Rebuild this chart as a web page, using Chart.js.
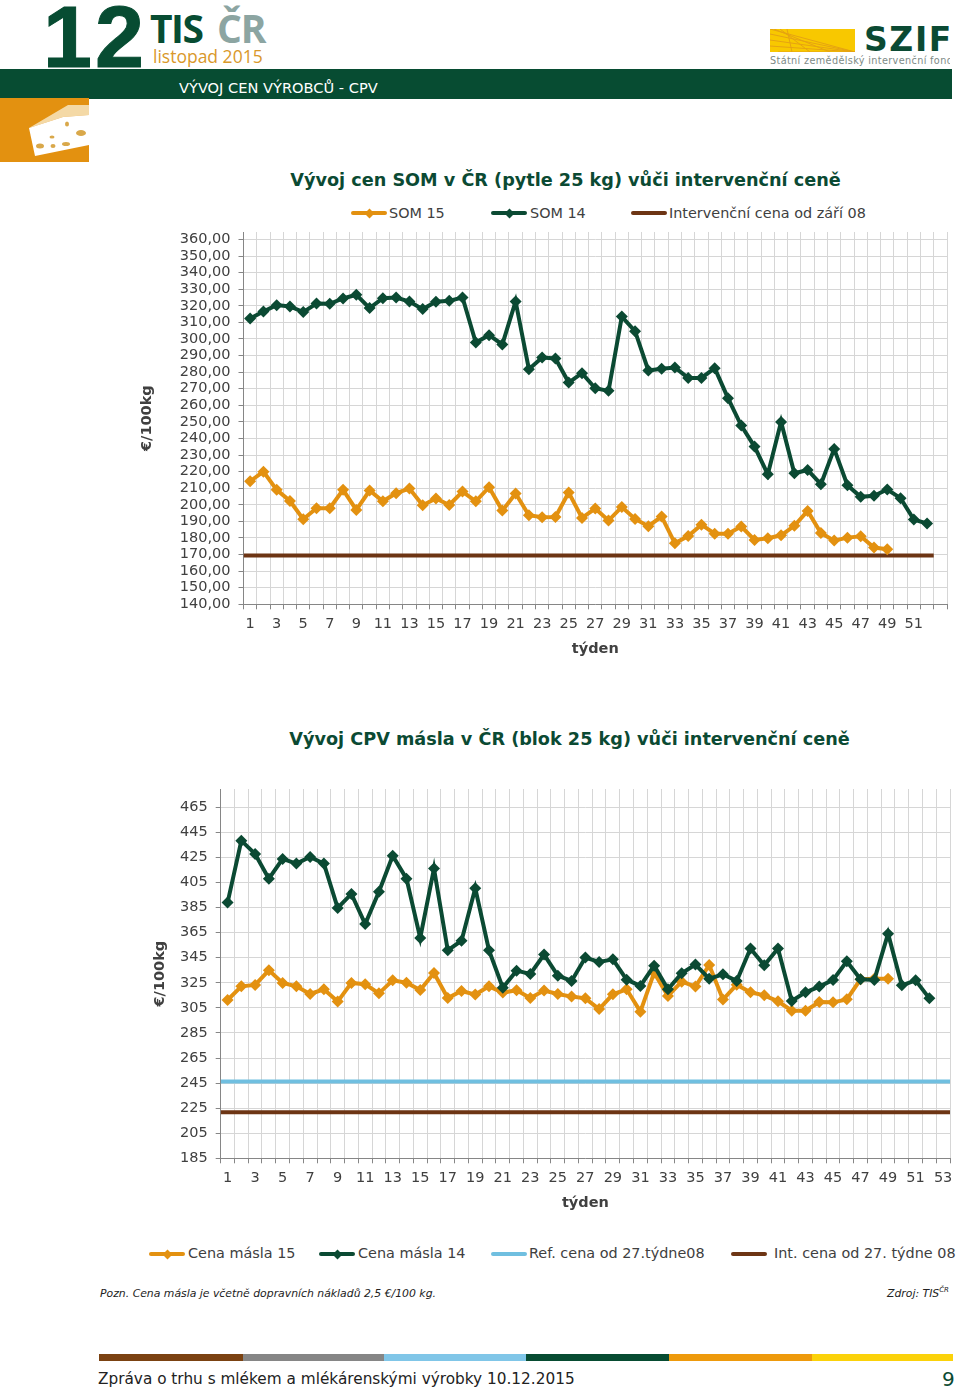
<!DOCTYPE html>
<html lang="cs">
<head>
<meta charset="utf-8">
<title>Vývoj cen výrobců - CPV</title>
<script src="https://cdn.jsdelivr.net/npm/chart.js@4"></script>
<style>
  html, body { margin: 0; padding: 0; background: #fff; }
  body { position: relative; width: 960px; height: 1389px; overflow: hidden; font-family: "DejaVu Sans", sans-serif; color: #404040; }
  .abs { position: absolute; white-space: nowrap; }
  .chart-box { position: absolute; left: 130px; width: 830px; height: 440px; }
  .title { position: absolute; text-align: center; font-weight: bold; font-size: 17.65px; color: #0b4a33; white-space: nowrap; }
  .key { position: absolute; width: 36px; height: 4px; border-radius: 2px; }
  .key i { position: absolute; left: 14.5px; top: -1.5px; width: 7px; height: 7px; transform: rotate(45deg); background: inherit; }
  .key-text { position: absolute; font-size: 14.4px; line-height: 18px; white-space: nowrap; }
  .strip { position: absolute; top: 1354px; height: 7px; }
</style>
</head>
<body>

<!-- hlavička -->
<div class="abs" style="left:43px;top:-13px;font:bold 88px/100px 'Liberation Sans';color:#074c32;-webkit-text-stroke:1px #074c32;letter-spacing:3px;height:85px;overflow:hidden">12</div>
<div class="abs" style="left:150px;top:2px;font:bold 39px/52px 'Open Sans';color:#074c32;letter-spacing:-1.5px">TIS</div>
<div class="abs" style="left:217px;top:2px;font:bold 39px/52px 'Open Sans';color:#8ca5a2;letter-spacing:-1px">ČR</div>
<div class="abs" style="left:153px;top:46px;font:17.5px/20px 'Open Sans';color:#d9982a">listopad 2015</div>

<svg class="abs" style="left:770px;top:29px" width="85" height="23" viewBox="0 0 85 23">
  <rect width="85" height="23" fill="#f8c800"/>
  <g stroke="#e5a312" stroke-width="1" fill="none">
    <path d="M85 23 L0 0"/><path d="M85 23 L0 5"/><path d="M85 23 L0 11"/><path d="M85 23 L0 17"/>
    <path d="M85 23 L8 23"/><path d="M60 23 L4 0"/><path d="M40 23 L10 0"/><path d="M22 23 L17 0"/>
  </g>
</svg>
<div class="abs" style="left:864px;top:19px;font:bold 33px/42px 'DejaVu Sans';color:#0b4a33;letter-spacing:1.6px">SZIF</div>
<div class="abs" style="left:770px;top:55px;width:180px;overflow:hidden;font:9.7px/12px 'DejaVu Sans';color:#7d8a86;letter-spacing:0.35px">Státní zemědělský intervenční fond</div>

<div class="abs" style="left:0;top:69px;width:952px;height:30px;background:#074c32"></div>
<div class="abs" style="left:179px;top:79px;font-size:14.6px;line-height:18px;color:#fff">VÝVOJ CEN VÝROBCŮ - CPV</div>

<svg class="abs" style="left:0;top:98px" width="89" height="64" viewBox="0 0 89 64">
  <rect width="89" height="64" fill="#e39110"/>
  <path d="M29 30 L68 7 L89 7 L89 17 L63 19 Z" fill="#f4d9a6"/>
  <path d="M29 30 L63 19 L89 17 L89 47 L35 58 Z" fill="#fff"/>
  <g fill="#d9a84a">
    <ellipse cx="81" cy="35" rx="5" ry="3"/><ellipse cx="66" cy="46" rx="4" ry="2"/>
    <ellipse cx="40" cy="48" rx="4" ry="2.5"/><ellipse cx="53" cy="48" rx="2.5" ry="2"/>
    <ellipse cx="52" cy="39" rx="2.5" ry="1.5"/><ellipse cx="67" cy="26" rx="2" ry="2.5"/>
  </g>
</svg>

<!-- graf 1 -->
<div class="title" style="left:190px;width:751px;top:170px">Vývoj cen SOM v ČR (pytle 25 kg) vůči intervenční ceně</div>
<div class="key" style="left:351px;top:211px;background:#e39110"><i></i></div>
<div class="key-text" style="left:389px;top:204px">SOM 15</div>
<div class="key" style="left:491px;top:211px;background:#0b4a33"><i></i></div>
<div class="key-text" style="left:530px;top:204px">SOM 14</div>
<div class="key" style="left:631px;top:211px;background:#6d3514"></div>
<div class="key-text" style="left:669px;top:204px">Intervenční cena od září 08</div>
<div class="chart-box" style="top:225px"><canvas id="somChart"></canvas></div>

<!-- graf 2 -->
<div class="title" style="left:190px;width:759px;top:729px">Vývoj CPV másla v ČR (blok 25 kg) vůči intervenční ceně</div>
<div class="chart-box" style="top:780px"><canvas id="butterChart"></canvas></div>
<div class="key" style="left:149px;top:1252px;background:#e39110"><i></i></div>
<div class="key-text" style="left:188px;top:1244px">Cena másla 15</div>
<div class="key" style="left:319px;top:1252px;background:#0b4a33"><i></i></div>
<div class="key-text" style="left:358px;top:1244px">Cena másla 14</div>
<div class="key" style="left:491px;top:1252px;background:#70bfe0"></div>
<div class="key-text" style="left:529px;top:1244px">Ref. cena od 27.týdne08</div>
<div class="key" style="left:731px;top:1252px;background:#6d3514"></div>
<div class="key-text" style="left:774px;top:1244px">Int. cena od 27. týdne 08</div>

<!-- patička -->
<div class="abs" style="left:100px;top:1287px;font-size:10.85px;line-height:14px;font-style:italic;color:#222">Pozn. Cena másla je včetně dopravních nákladů 2,5 €/100 kg.</div>
<div class="abs" style="left:887px;top:1287px;font-size:10.85px;line-height:14px;font-style:italic;color:#222">Zdroj: TIS<sup style="font-size:7px;line-height:0">ČR</sup></div>
<div class="strip" style="left:99px;width:144px;background:#7b4212"></div>
<div class="strip" style="left:243px;width:141px;background:#868686"></div>
<div class="strip" style="left:384px;width:142px;background:#80c6e8"></div>
<div class="strip" style="left:526px;width:143px;background:#074c32"></div>
<div class="strip" style="left:669px;width:143px;background:#ee9a0c"></div>
<div class="strip" style="left:812px;width:141px;background:#fbd20a"></div>
<div class="abs" style="left:98px;top:1369px;font-size:15.3px;line-height:20px;color:#222">Zpráva o trhu s mlékem a mlékárenskými výrobky 10.12.2015</div>
<div class="abs" style="left:942px;top:1367px;font-size:20px;line-height:24px;color:#0b4a33">9</div>

<script>
// ----------------------------------------------------------------
//  Data
// ----------------------------------------------------------------
const weeks = ['1','2','3','4','5','6','7','8','9','10','11','12','13','14','15','16','17','18','19','20','21','22','23','24','25','26','27','28','29','30','31','32','33','34','35','36','37','38','39','40','41','42','43','44','45','46','47','48','49','50','51','52','53'];
const xTicksSom = ['1','3','5','7','9','11','13','15','17','19','21','23','25','27','29','31','33','35','37','39','41','43','45','47','49','51'];
const xTicksButter = [...xTicksSom, '53'];
const yTicksSom = [140,150,160,170,180,190,200,210,220,230,240,250,260,270,280,290,300,310,320,330,340,350,360];
const yTicksButter = [185,205,225,245,265,285,305,325,345,365,385,405,425,445,465];

const som15 = [214.2,220,209,202.3,191.3,197.9,197.9,209,196.9,208.6,202.1,207,209.8,199.7,203.8,199.9,208,202.1,210.6,196.5,206.8,193.7,192.5,192.7,207.4,192.1,197.7,190.5,198.7,191.5,187.1,192.9,176.8,181.2,188,182.6,182.6,186.9,178.8,179.8,181.6,187.3,196.3,183,178.4,180.2,181,174.2,173.2];
const som14 = [312.3,316.6,320.4,319.6,316.2,321.4,321.2,324.4,326.6,318.6,324.6,325,322.6,318,322.4,323,325,297.9,302.3,296.7,322.6,281.8,288.8,288.2,273.7,279.4,270.3,268.7,313.5,304.7,281,282,282.8,276.5,276.5,282.4,264.3,247.8,235.1,218.4,250,219,221,212.4,233.7,211.8,204.8,205.4,209.2,204,191.1,188.7];
const somIntervention = 169.5;
const somInterventionSpan = [0.5, 52.5];

const butter15 = [311.3,322.2,323.3,335,324.9,322.2,316.1,319.8,310,324.9,323.8,316.6,327,325.1,319.3,332.8,312.9,318.5,315.6,322.2,317.2,319,312.9,318.8,316.1,314,312.6,304.1,315.8,319.8,302,333.1,314.5,325.9,322,339.2,311.6,323.5,317.4,315,310.2,302.8,302.8,309.7,309.4,311.8,327.8,328.3,328.3];
const butter14 = [389,438.4,427.8,408.1,423.8,420.1,425.4,420.1,384.7,395.9,371.9,397.7,426.4,408.1,360.8,416.1,350.9,358.6,400.4,350.9,321.1,334.7,332,347.5,330.7,326.5,345.1,341.6,343.7,327.5,322.5,338.7,319.8,332.6,339.5,328.3,331.8,326.5,352.3,339,352.3,310.5,317.4,322,327.3,342.1,327.8,327.3,364.2,323,327,312.6];
const butterRef = 246.2;
const butterInt = 221.7;
const butterLineSpan = [0.5, 53.5];

// ----------------------------------------------------------------
//  Společné nastavení
// ----------------------------------------------------------------
const ORANGE = '#e39110', GREEN = '#0b4a33', BROWN = '#6d3514', BLUE = '#70bfe0';
const GRID = '#d6d6d6', AXIS = '#868686', TEXT = '#404040';
const FONT = '"DejaVu Sans", sans-serif';

const markerLine = (label, data, color, order) => ({
  label, data, order,
  borderColor: color,
  backgroundColor: color,
  borderWidth: 4,
  pointStyle: 'rectRot',
  pointRadius: 6,
  pointBorderWidth: 0,
  tension: 0,
  xAxisID: 'x',
});

// vodorovné cenové linie jdou od hrany k hraně kategorie, proto vlastní skrytá osa
const flatLine = (label, value, span, color, order) => ({
  label, order,
  data: span.map(x => ({ x, y: value })),
  borderColor: color,
  borderWidth: 4,
  pointRadius: 0,
  xAxisID: 'edge',
});

const buildChart = (id, cfg) => new Chart(document.getElementById(id), {
  type: 'line',
  data: { labels: weeks, datasets: cfg.datasets },
  options: {
    responsive: true,
    maintainAspectRatio: false,
    animation: false,
    layout: { autoPadding: false, padding: cfg.padding },
    plugins: { legend: { display: false }, title: { display: false }, tooltip: { enabled: false } },
    scales: {
      x: {
        type: 'category',
        offset: true,
        grid: { offset: true, color: GRID, tickColor: AXIS, tickLength: 5 },
        border: { color: AXIS },
        ticks: {
          autoSkip: false,
          maxRotation: 0,
          padding: 6,
          color: TEXT,
          font: { family: FONT, size: 14.5 },
          callback(v) {
            const l = this.getLabelForValue(v);
            return cfg.xTicks.includes(l) ? l : '';
          },
        },
        title: { display: true, text: 'týden', color: TEXT, font: { family: FONT, size: 14.5, weight: 'bold' }, padding: 0 },
        afterFit: s => { s.height = 53.7; },
      },
      edge: { type: 'linear', position: 'bottom', display: false, min: 0.5, max: 53.5 },
      y: {
        min: cfg.yMin,
        max: cfg.yMax,
        grid: { color: GRID, tickColor: AXIS, tickLength: 5 },
        border: { color: AXIS },
        afterBuildTicks: s => { s.ticks = cfg.yTicks.map(value => ({ value })); },
        ticks: {
          autoSkip: false,
          padding: 8,
          color: TEXT,
          font: { family: FONT, size: 14.5 },
          callback: cfg.yFormat,
        },
        title: { display: true, text: '€/100kg', color: TEXT, font: { family: FONT, size: 14.5, weight: 'bold' }, padding: { top: cfg.yTitlePad, bottom: 0 } },
        // pevná šířka osy a žádná rezerva pro půlku horního popisku
        afterFit: s => { s.width = cfg.yWidth; s.paddingTop = 0; s.paddingBottom = 0; },
      },
    },
  },
});

// ----------------------------------------------------------------
//  SOM
// ----------------------------------------------------------------
buildChart('somChart', {
  datasets: [
    markerLine('SOM 15', som15, ORANGE, 2),
    markerLine('SOM 14', som14, GREEN, 1),
    flatLine('Intervenční cena od září 08', somIntervention, somInterventionSpan, BROWN, 3),
  ],
  padding: { top: 7, right: 13, bottom: 7, left: 0 },
  xTicks: xTicksSom,
  yTicks: yTicksSom,
  yMin: 140,
  yMax: 364.5,
  yWidth: 113.5,
  yTitlePad: 9,
  yFormat: v => v.toFixed(2).replace('.', ','),
});

// ----------------------------------------------------------------
//  Máslo
// ----------------------------------------------------------------
buildChart('butterChart', {
  datasets: [
    markerLine('Cena másla 15', butter15, ORANGE, 2),
    markerLine('Cena másla 14', butter14, GREEN, 1),
    flatLine('Ref. cena od 27.týdne08', butterRef, butterLineSpan, BLUE, 3),
    flatLine('Int. cena od 27. týdne 08', butterInt, butterLineSpan, BROWN, 4),
  ],
  padding: { top: 9, right: 10, bottom: 8, left: 0 },
  xTicks: xTicksButter,
  yTicks: yTicksButter,
  yMin: 185,
  yMax: 479.6,
  yWidth: 90.7,
  yTitlePad: 22,
  yFormat: v => String(v),
});
</script>
</body>
</html>
